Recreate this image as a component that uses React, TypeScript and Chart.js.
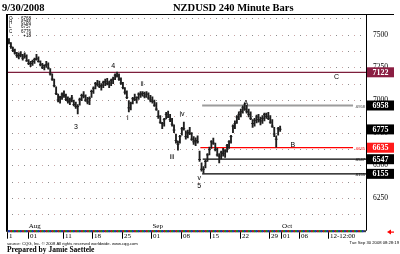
import React, { useEffect, useRef } from "react";
import { Chart, registerables } from "chart.js";

Chart.register(...registerables);

// ---------- data ----------
const chartTitle = "NZDUSD 240 Minute Bars";
const chartDate = "9/30/2008";
const barsPerDay = 3;
const firstBarDay = 0.5; // trading days since Mon 28 Jul 2008

const highs = [
  7495, 7470, 7440, 7405, 7390, 7365, 7360, 7370, 7350, 7360,
  7345, 7310, 7295, 7305, 7320, 7350, 7330, 7300, 7280, 7270,
  7295, 7285, 7240, 7200, 7160, 7100, 7045, 7030, 7055, 7070,
  7045, 7025, 7015, 7035, 7000, 6985, 6965, 7015, 7045, 7065,
  7040, 7020, 7025, 7075, 7100, 7135, 7150, 7145, 7125, 7145,
  7160, 7165, 7145, 7160, 7175, 7200, 7214, 7200, 7170, 7135,
  7095, 7070, 6995, 6985, 7020, 7045, 7025, 7055, 7065, 7065,
  7060, 7065, 7055, 7035, 7025, 7000, 6980, 6920, 6880, 6830,
  6860, 6905, 6915, 6890, 6860, 6810, 6740, 6685, 6730, 6790,
  6832, 6765, 6770, 6790, 6750, 6720, 6710, 6725, 6610, 6520,
  6490, 6540, 6590, 6640, 6690, 6709, 6670, 6630, 6590, 6610,
  6630, 6620, 6660, 6690, 6730, 6810, 6840, 6880, 6910, 6930,
  6955, 6977, 6960, 6930, 6910, 6850, 6860, 6885, 6890, 6870,
  6880, 6900, 6900, 6905, 6880, 6850, 6790, 6725, 6790, 6800,
];
const lows = [
  7445, 7430, 7395, 7370, 7350, 7325, 7315, 7330, 7305, 7320,
  7295, 7270, 7255, 7265, 7280, 7305, 7290, 7260, 7240, 7230,
  7250, 7235, 7190, 7150, 7100, 7040, 6985, 6975, 7005, 7020,
  6995, 6975, 6965, 6985, 6955, 6935, 6893, 6960, 6995, 7015,
  6990, 6970, 6965, 7020, 7050, 7085, 7105, 7095, 7075, 7095,
  7110, 7115, 7095, 7110, 7125, 7155, 7175, 7150, 7120, 7085,
  7045, 7010, 6908, 6925, 6970, 6995, 6975, 7005, 7020, 7030,
  7015, 7020, 7005, 6985, 6975, 6950, 6920, 6860, 6820, 6780,
  6800, 6855, 6865, 6835, 6800, 6750, 6670, 6617, 6670, 6730,
  6770, 6700, 6710, 6735, 6690, 6660, 6650, 6670, 6530, 6455,
  6441, 6480, 6530, 6580, 6630, 6660, 6610, 6570, 6518, 6550,
  6570, 6560, 6600, 6630, 6670, 6750, 6780, 6820, 6850, 6870,
  6900, 6920, 6900, 6870, 6850, 6790, 6800, 6825, 6830, 6810,
  6820, 6840, 6860, 6850, 6820, 6790, 6720, 6640, 6730, 6760,
];
const closes = [
  7455, 7440, 7410, 7380, 7360, 7340, 7340, 7345, 7320, 7335,
  7300, 7280, 7280, 7295, 7310, 7315, 7295, 7270, 7250, 7265,
  7270, 7245, 7200, 7160, 7110, 7050, 7000, 7020, 7045, 7035,
  7005, 6990, 7000, 7015, 6965, 6950, 6950, 7005, 7035, 7030,
  7000, 6985, 7010, 7065, 7090, 7125, 7120, 7105, 7110, 7135,
  7140, 7125, 7130, 7150, 7160, 7190, 7185, 7160, 7130, 7095,
  7060, 7020, 6940, 6975, 7010, 7005, 7020, 7045, 7040, 7050,
  7030, 7045, 7015, 7000, 6990, 6960, 6930, 6875, 6830, 6820,
  6850, 6890, 6870, 6850, 6815, 6770, 6690, 6660, 6720, 6780,
  6780, 6720, 6750, 6745, 6700, 6680, 6690, 6680, 6545, 6470,
  6470, 6530, 6580, 6620, 6680, 6670, 6620, 6580, 6570, 6600,
  6590, 6610, 6650, 6680, 6720, 6800, 6820, 6870, 6890, 6910,
  6940, 6930, 6910, 6890, 6860, 6820, 6845, 6870, 6850, 6840,
  6860, 6890, 6875, 6860, 6830, 6800, 6740, 6700, 6780, 6776,
];

const yMin = 6000;
const yMax = 7658;
const gridStep = 125;
const xMinDay = 0.5;
const xMaxDay = 61.4;

const priceTicks = [7500, 7250, 7000, 6750, 6500, 6250];
const dateTickDays = [0.5, 4, 10, 15, 20, 25, 30, 35, 40, 45, 47, 50, 55];
const dateTickLabels = ["1", "01", "11", "18", "25", "01", "08", "15", "22", "29", "01", "06", "12-12:00"];
const monthDays = [4, 25, 47];
const monthLabels = ["Aug", "Sep", "Oct"];

const levelValues = [7212, 6958, 6635, 6547, 6435];
const levelTexts = ["7122", "6958", "6635", "6547", "6155"];
const levelStartDays = [0.5, 33.6, 33.3, 33.7, 33.6];
const levelEndDays = [61.4, 59.2, 59.2, 61.4, 61.4];
const lastPrice = 6775;
const lastPriceText = "6775";

const waveTexts = ["3", "4", "i", "ii", "iii", "iv", "v", "5", "A", "B", "C"];
const waveDays = [12.2, 18.5, 21.0, 23.4, 28.5, 30.2, 33.1, 33.1, 41.0, 49.0, 56.4];
const waveValues = [6793, 7260, 6862, 7122, 6564, 6893, 6403, 6342, 6977, 6656, 7176];

const readoutKeys = ["O", "H", "L", "C", ""];
const readoutValues = ["6768", "6786", "6757", "6776", "+18"];

const sourceText = "source: CQG, Inc. \u00A9 2008 All rights reserved worldwide. www.cqg.com";
const preparedText = "Prepared by Jamie Saettele";
const stampText = "Tue Sep 30 2008 08:28:19";

// ---------- styles ----------
const levelLineColors = ["#7d1f3c", "#9c9c9c", "#ff0000", "#000000", "#000000"];
const levelLineWidths = [1.2, 2, 1.3, 1.3, 1.3];
const levelBoxColors = ["#8b1e42", "#000000", "#000000" , "#000000", "#000000"];
levelBoxColors[2] = "#ff1a1a";
const SERIF = '"Liberation Serif", "DejaVu Serif", serif';
const SANS = '"Liberation Sans", "DejaVu Sans", sans-serif';

const dayOfBar = (i: number) => firstBarDay + i / barsPerDay;

const decorPlugin = {
  id: "decor",
  beforeDatasetsDraw(chart: any) {
    const { ctx, chartArea, scales } = chart;
    const y = scales.y;
    ctx.save();
    for (let v = yMin + gridStep; v < yMax; v += gridStep) {
      const py = Math.round(y.getPixelForValue(v));
      let k = 0;
      for (let px = chartArea.left + 5; px < chartArea.right - 2; px += 6, k++) {
        ctx.fillStyle = k % 2 ? "#c8a4a4" : "#8c8c8c";
        ctx.fillRect(px, py, 1, 1);
      }
    }
    ctx.restore();
  },
  afterDatasetsDraw(chart: any) {
    const { ctx, chartArea, scales } = chart;
    const x = scales.x;
    const y = scales.y;
    const { left, right, top, bottom } = chartArea;
    ctx.save();

    // frame
    ctx.strokeStyle = "#000";
    ctx.lineWidth = 1;
    ctx.beginPath();
    ctx.moveTo(left, top + 0.5);
    ctx.lineTo(394, top + 0.5);
    ctx.moveTo(Math.round(right) + 0.5, top);
    ctx.lineTo(Math.round(right) + 0.5, bottom);
    ctx.stroke();
    ctx.lineWidth = 2;
    ctx.beginPath();
    ctx.moveTo(left, top);
    ctx.lineTo(left, bottom + 1);
    ctx.stroke();

    // bottom axis strip
    ctx.fillStyle = "#3a3a3a";
    ctx.fillRect(left, bottom - 0.5, right - left, 2);
    const stripColors = ["#d01010", "#10a010", "#1030d0"];
    const stripOffsets = [0.1, 0.4, 0.7];
    for (let d = 0; d < xMaxDay; d++) {
      for (let k = 0; k < 3; k++) {
        const x0 = x.getPixelForValue(d + stripOffsets[k]);
        if (x0 < left || x0 > right - 2) continue;
        ctx.fillStyle = stripColors[k];
        ctx.fillRect(x0, bottom - 0.5, 1.5, 2);
      }
    }

    // month labels
    ctx.fillStyle = "#000";
    ctx.font = `7px ${SERIF}`;
    ctx.textBaseline = "alphabetic";
    ctx.textAlign = "left";
    monthDays.forEach((d, i) => {
      ctx.fillText(monthLabels[i], x.getPixelForValue(d) + 1, bottom - 3);
    });

    // date ticks
    ctx.lineWidth = 1;
    ctx.strokeStyle = "#000";
    dateTickDays.forEach((d, i) => {
      const px = Math.round(x.getPixelForValue(d)) + 0.5;
      ctx.beginPath();
      ctx.moveTo(px, bottom + 1.5);
      ctx.lineTo(px, bottom + 8);
      ctx.stroke();
      ctx.fillText(dateTickLabels[i], px + 1.5, bottom + 7.5);
    });

    // price tick labels
    ctx.font = `7.5px ${SERIF}`;
    ctx.textBaseline = "middle";
    priceTicks.forEach((v) => {
      ctx.fillText(String(v), right + 7, y.getPixelForValue(v));
    });

    // tiny level tags at line ends
    ctx.font = `4px ${SANS}`;
    ctx.textAlign = "right";
    levelValues.forEach((v, i) => {
      if (i === 0) return;
      ctx.fillStyle = levelLineColors[i] === "#9c9c9c" ? "#333" : levelLineColors[i];
      ctx.fillText("." + levelTexts[i], right - 1, y.getPixelForValue(v) + 1);
    });

    // boxed labels
    const drawBox = (v: number, text: string, color: string) => {
      const py = y.getPixelForValue(v);
      ctx.fillStyle = color;
      ctx.fillRect(right + 1, py - 5, 27, 10);
      ctx.fillStyle = "#fff";
      ctx.font = `bold 8px ${SERIF}`;
      ctx.textAlign = "center";
      ctx.textBaseline = "middle";
      ctx.fillText(text, right + 14.5, py + 0.5);
    };
    drawBox(lastPrice, lastPriceText, "#000");
    levelValues.forEach((v, i) => drawBox(v, levelTexts[i], levelBoxColors[i]));

    // wave labels
    ctx.fillStyle = "#000";
    ctx.font = `7px ${SANS}`;
    ctx.textAlign = "center";
    ctx.textBaseline = "middle";
    waveTexts.forEach((t, i) => {
      ctx.fillText(t, x.getPixelForValue(waveDays[i]), y.getPixelForValue(waveValues[i]));
    });

    // OHLC readout
    ctx.font = `4.5px ${SANS}`;
    ctx.textBaseline = "alphabetic";
    readoutKeys.forEach((k, i) => {
      ctx.textAlign = "left";
      ctx.fillText(k, left + 2, top + 6 + i * 4.2);
      ctx.textAlign = "right";
      ctx.fillText(readoutValues[i], left + 24, top + 6 + i * 4.2);
    });

    // titles
    ctx.textAlign = "left";
    ctx.textBaseline = "alphabetic";
    ctx.font = `bold 10.5px ${SERIF}`;
    ctx.fillText(chartDate, 2, 11);
    ctx.fillText(chartTitle, 173, 11);

    // footer
    ctx.font = `4.2px ${SANS}`;
    ctx.fillText(sourceText, 7, 245);
    ctx.textAlign = "right";
    ctx.fillText(stampText, 399, 244);
    ctx.textAlign = "left";
    ctx.font = `bold 7.5px ${SERIF}`;
    ctx.fillText(preparedText, 7, 252);

    // red arrow
    ctx.fillStyle = "#ff0000";
    ctx.beginPath();
    ctx.moveTo(387, 232);
    ctx.lineTo(391, 229.5);
    ctx.lineTo(391, 234.5);
    ctx.closePath();
    ctx.fill();
    ctx.fillRect(390, 231.5, 4, 1.2);

    ctx.restore();
  },
};

export default function App() {
  const ref = useRef<HTMLCanvasElement>(null);
  useEffect(() => {
    document.body.style.margin = "0";
    const canvas = ref.current!;
    const levelDatasets = levelValues.map((v, i) => ({
      type: "line" as const,
      data: [
        { x: levelStartDays[i], y: v },
        { x: levelEndDays[i], y: v },
      ],
      borderColor: levelLineColors[i],
      borderWidth: levelLineWidths[i],
      pointRadius: 0,
      order: 2,
    }));
    const chart = new Chart(canvas, {
      type: "bar",
      data: {
        datasets: [
          {
            type: "bar",
            data: highs.map((h, i) => ({ x: dayOfBar(i), y: [lows[i], h] })) as any,
            backgroundColor: "#1e1e1e",
            borderWidth: 0,
            barThickness: 1.2,
            grouped: false,
            order: 1,
          } as any,
          {
            type: "line",
            data: closes.map((c, i) => ({ x: dayOfBar(i), y: c })),
            showLine: false,
            pointStyle: "line",
            pointRadius: 1.4,
            pointBorderColor: "#1e1e1e",
            pointBorderWidth: 1,
            pointHoverRadius: 0,
            order: 0,
          } as any,
          ...levelDatasets,
        ],
      },
      options: {
        responsive: false,
        animation: false,
        devicePixelRatio: 1,
        events: [],
        layout: { padding: { left: 7, right: 34, top: 14, bottom: 23.3 } },
        plugins: { legend: { display: false }, tooltip: { enabled: false } },
        scales: {
          x: { type: "linear", display: false, min: xMinDay, max: xMaxDay, offset: false },
          y: { type: "linear", display: false, min: yMin, max: yMax },
        },
      },
      plugins: [decorPlugin],
    });
    return () => chart.destroy();
  }, []);
  return (
    <div style={{ width: 400, height: 254, position: "relative", background: "#fff" }}>
      <canvas ref={ref} width={400} height={254} style={{ display: "block" }} />
    </div>
  );
}
